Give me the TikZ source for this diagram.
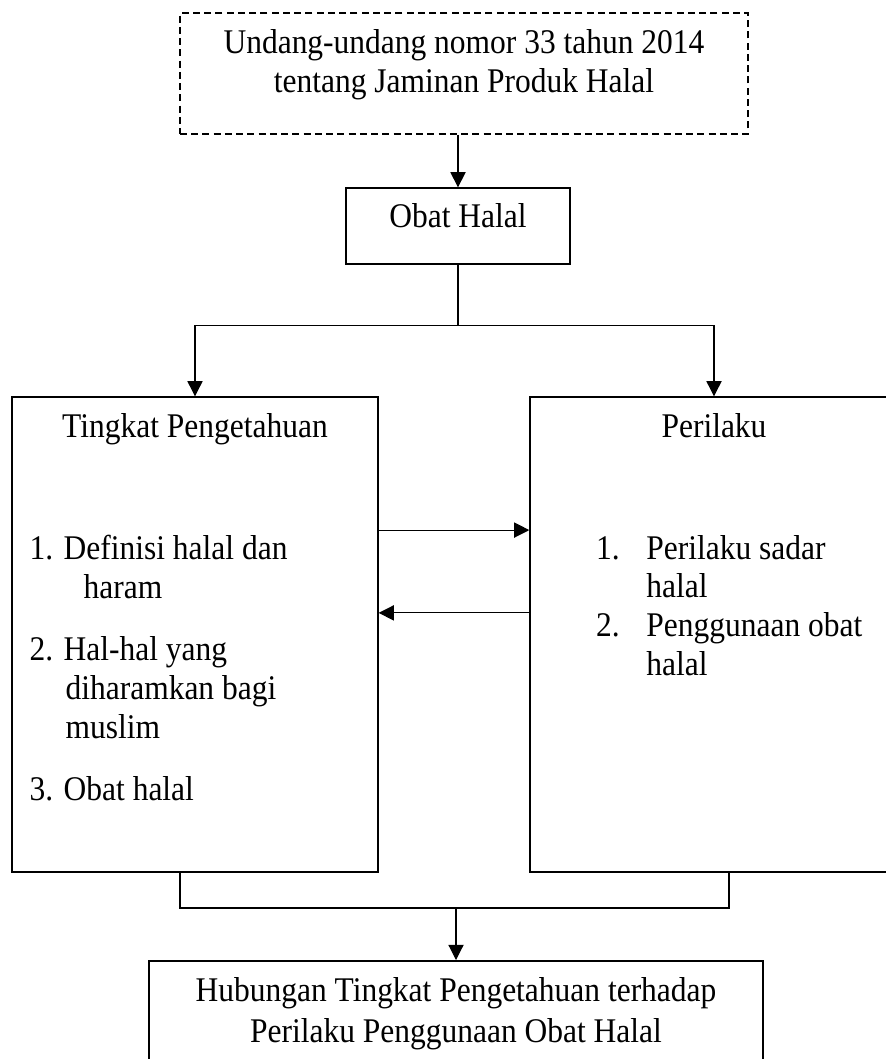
\documentclass[tikz,border=0pt]{standalone}
\usepackage{fontspec}
\setmainfont{Liberation Serif}[FakeStretch=0.91]
\usetikzlibrary{arrows.meta, positioning}

\begin{document}
\begin{tikzpicture}[
    x=0.025cm,
    y=-0.025cm,
    font=\fontsize{24.6}{27.7}\selectfont,
    >={Triangle[length=0.38cm, width=0.38cm]},
    frame/.style={rectangle, draw, line width=0.9pt, inner sep=0pt},
    lawframe/.style={frame, line width=1.3pt, dash pattern=on 5pt off 3pt},
    caption/.style={inner sep=0pt, align=center},
    items/.style={inner sep=0pt, align=left},
    link/.style={line width=0.8pt},
]

    \useasboundingbox (0,0) rectangle (886,1059);

    \node[lawframe, minimum width=14.2cm,  minimum height=3.025cm]  (law)    at (464, 73.5)  {};
    \node[frame,    minimum width=5.6cm,   minimum height=1.9cm]    (obat)   at (458, 226)   {};
    \node[frame,    minimum width=9.15cm,  minimum height=11.875cm] (know)   at (195, 634.5) {};
    \node[frame,    minimum width=9.2cm,   minimum height=11.875cm] (act)    at (714, 634.5) {};
    \node[frame, line width=1.4pt, minimum width=15.35cm, minimum height=3cm] (result) at (456, 1021) {};

    \node[caption, below=0.425cm of law.north]    (lawtext)    {Undang-undang nomor 33 tahun 2014\\tentang Jaminan Produk Halal};
    \node[caption, below=0.4cm of obat.north]     (obattext)   {Obat Halal};
    \node[caption, below=0.425cm of know.north]   (knowtitle)  {Tingkat Pengetahuan};
    \node[caption, below=0.425cm of act.north]    (acttitle)   {Perilaku};
    \node[caption, below=0.425cm of result.north] (resulttext) {Hubungan Tingkat Pengetahuan terhadap\\[0.05cm]Perilaku Penggunaan Obat Halal};

    \node[items, below right=3.46cm and 0.45cm of know.north west] (knowitems)
        {1. Definisi halal dan\\\hspace*{1.35cm}haram\\[0.575cm]2. Hal-hal yang\\\hspace*{0.9cm}diharamkan bagi\\\hspace*{0.9cm}muslim\\[0.575cm]3. Obat halal};
    \node[items, below right=3.46cm and 1.66cm of act.north west] (actitems)
        {\makebox[1.26cm][l]{1.}Perilaku sadar\\\hspace*{1.26cm}halal\\\makebox[1.26cm][l]{2.}Penggunaan obat\\\hspace*{1.26cm}halal};

    \coordinate (fork)  at ([yshift=-1.525cm]obat.south);
    \coordinate (merge) at ([yshift=1.3cm]result.north);
    \coordinate (dropL) at ([xshift=-0.375cm]know.south);
    \coordinate (dropR) at ([xshift=0.375cm]act.south);

    \draw[link, ->] (law.south -| obat.north) -- (obat.north);
    \draw[link] (obat.south) -- (fork);
    \draw[link, ->] (fork) -| (know.north);
    \draw[link, ->] (fork) -| (act.north);
    \draw[link, ->] ([yshift=2.61cm]know.east) -- ([yshift=2.61cm]act.west);
    \draw[link, ->] ([yshift=0.54cm]act.west) -- ([yshift=0.54cm]know.east);
    \draw[link] (dropL) -- (dropL |- merge) -- (dropR |- merge) -- (dropR);
    \draw[link, ->] (merge) -- (result.north);
\end{tikzpicture}
\end{document}
